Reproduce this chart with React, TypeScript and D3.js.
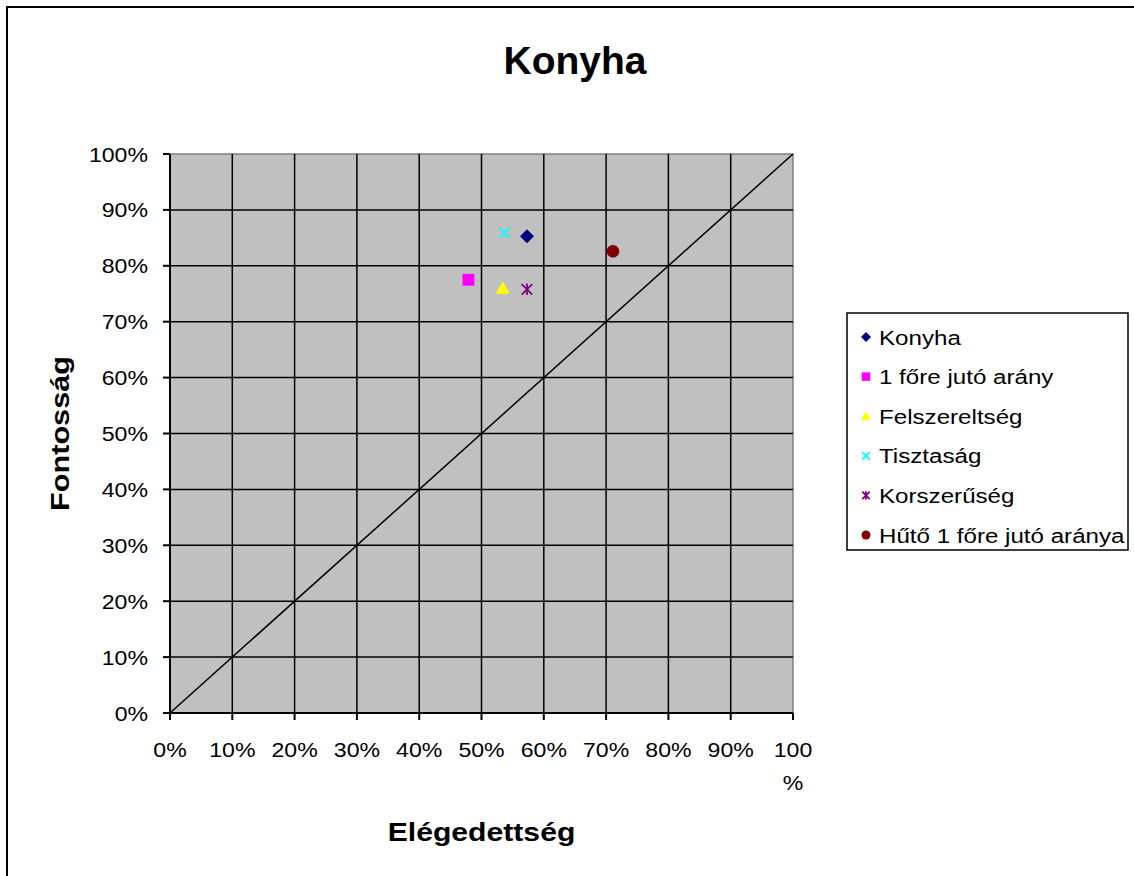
import React, { useEffect, useRef } from 'react';
import * as d3 from 'd3';

const seriesNames = ['Konyha', '1 főre jutó arány', 'Felszereltség', 'Tisztaság', 'Korszerűség', 'Hűtő 1 főre jutó aránya'];
const satisfaction = [0.573, 0.479, 0.534, 0.537, 0.573, 0.711];
const importance = [0.853, 0.775, 0.76, 0.859, 0.758, 0.826];
const markerColors = ['#000080', '#FF00FF', '#FFFF00', '#00FFFF', '#800080', '#800000'];
const markerKinds = ['diamond', 'square', 'triangle', 'x', 'star', 'circle'];
const tickValues = [0, 0.1, 0.2, 0.3, 0.4, 0.5, 0.6, 0.7, 0.8, 0.9, 1];

const W = 1134;
const H = 876;
const font = 'Arial, "Liberation Sans", sans-serif';

function drawMarker(g, kind, color, cx, cy, s) {
  if (kind === 'diamond') {
    g.append('path')
      .attr('d', `M${cx},${cy - s}L${cx + s},${cy}L${cx},${cy + s}L${cx - s},${cy}Z`)
      .attr('fill', color);
  } else if (kind === 'square') {
    g.append('rect').attr('x', cx - s * 0.85).attr('y', cy - s * 0.85)
      .attr('width', s * 1.7).attr('height', s * 1.7).attr('fill', color);
  } else if (kind === 'triangle') {
    g.append('path')
      .attr('d', `M${cx},${cy - s}L${cx + s},${cy + s * 0.8}L${cx - s},${cy + s * 0.8}Z`)
      .attr('fill', color);
  } else if (kind === 'x') {
    const r = s * 0.75;
    g.append('path')
      .attr('d', `M${cx - r},${cy - r}L${cx + r},${cy + r}M${cx + r},${cy - r}L${cx - r},${cy + r}`)
      .attr('stroke', color).attr('stroke-width', 1.8);
  } else if (kind === 'star') {
    const r = s * 0.75;
    g.append('path')
      .attr('d', `M${cx - r},${cy - r}L${cx + r},${cy + r}M${cx + r},${cy - r}L${cx - r},${cy + r}M${cx},${cy - r * 1.1}L${cx},${cy + r * 1.1}`)
      .attr('stroke', color).attr('stroke-width', 1.8);
  } else {
    g.append('circle').attr('cx', cx).attr('cy', cy).attr('r', s * 0.9).attr('fill', color);
  }
}

const App = () => {
  const ref = useRef(null);

  useEffect(() => {
    const svg = d3.select(ref.current);
    svg.selectAll('*').remove();

    const x = d3.scaleLinear().domain([0, 1]).range([170, 793]);
    const y = d3.scaleLinear().domain([0, 1]).range([713, 154]);

    // outer chart frame
    svg.append('rect').attr('x', 7).attr('y', 7).attr('width', 1200).attr('height', 1000)
      .attr('fill', '#fff').attr('stroke', '#000').attr('stroke-width', 2);

    svg.append('text').attr('x', 575).attr('y', 74).attr('text-anchor', 'middle')
      .attr('font-family', font).attr('font-size', 39).attr('font-weight', 'bold').text('Konyha');

    // plot area
    svg.append('rect').attr('x', x(0)).attr('y', y(1)).attr('width', x(1) - x(0)).attr('height', y(0) - y(1))
      .attr('fill', '#C0C0C0').attr('stroke', '#808080').attr('stroke-width', 1.5);

    const grid = svg.append('g').attr('stroke', '#000').attr('stroke-width', 1.5);
    tickValues.slice(1, -1).forEach((t) => {
      grid.append('line').attr('x1', x(t)).attr('x2', x(t)).attr('y1', y(0)).attr('y2', y(1));
      grid.append('line').attr('x1', x(0)).attr('x2', x(1)).attr('y1', y(t)).attr('y2', y(t));
    });

    // axes
    const axes = svg.append('g').attr('stroke', '#000').attr('stroke-width', 2);
    axes.append('line').attr('x1', x(0)).attr('x2', x(0)).attr('y1', y(0)).attr('y2', y(1));
    axes.append('line').attr('x1', x(0)).attr('x2', x(1)).attr('y1', y(0)).attr('y2', y(0));
    tickValues.forEach((t) => {
      axes.append('line').attr('x1', x(t)).attr('x2', x(t)).attr('y1', y(0)).attr('y2', y(0) + 7);
      axes.append('line').attr('x1', x(0) - 7).attr('x2', x(0)).attr('y1', y(t)).attr('y2', y(t));
    });

    const fmt = d3.format('.0%');
    const labels = svg.append('g').attr('font-family', font).attr('font-size', 21).attr('fill', '#000');
    const put = (tx, ty, anchor, txt) =>
      labels.append('text').attr('transform', `translate(${tx},${ty}) scale(1.1,1)`)
        .attr('text-anchor', anchor).text(txt);
    tickValues.forEach((t) => {
      put(148, y(t) + 7.5, 'end', fmt(t));
      if (t < 1) {
        put(x(t), 757, 'middle', fmt(t));
      } else {
        put(x(t), 757, 'middle', '100');
        put(x(t), 790, 'middle', '%');
      }
    });

    // diagonal reference line
    const diag = d3.line().x((d) => x(d)).y((d) => y(d));
    svg.append('path').attr('d', diag([0, 1])).attr('stroke', '#000').attr('stroke-width', 1.5).attr('fill', 'none');

    const marks = svg.append('g');
    seriesNames.forEach((name, i) => {
      drawMarker(marks, markerKinds[i], markerColors[i], x(satisfaction[i]), y(importance[i]), 7);
    });

    svg.append('text').attr('transform', 'translate(481.5,841) scale(1.16,1)').attr('text-anchor', 'middle')
      .attr('font-family', font).attr('font-size', 26).attr('font-weight', 'bold').text('Elégedettség');
    svg.append('text').attr('transform', 'translate(69,433.5) rotate(-90) scale(1.18,1)').attr('text-anchor', 'middle')
      .attr('font-family', font).attr('font-size', 26).attr('font-weight', 'bold').text('Fontosság');

    // legend
    const legend = svg.append('g');
    legend.append('rect').attr('x', 847).attr('y', 313).attr('width', 281).attr('height', 237)
      .attr('fill', '#fff').attr('stroke', '#000').attr('stroke-width', 1.5);
    seriesNames.forEach((name, i) => {
      const ly = 337 + i * 39.6;
      drawMarker(legend, markerKinds[i], markerColors[i], 866, ly, 5);
      legend.append('text').attr('transform', `translate(879,${ly + 7.5}) scale(1.15,1)`)
        .attr('font-family', font).attr('font-size', 21).text(name);
    });
  }, []);

  return <svg ref={ref} width={W} height={H} style={{ position: 'absolute', left: 0, top: 0 }}></svg>;
};

export default App;
